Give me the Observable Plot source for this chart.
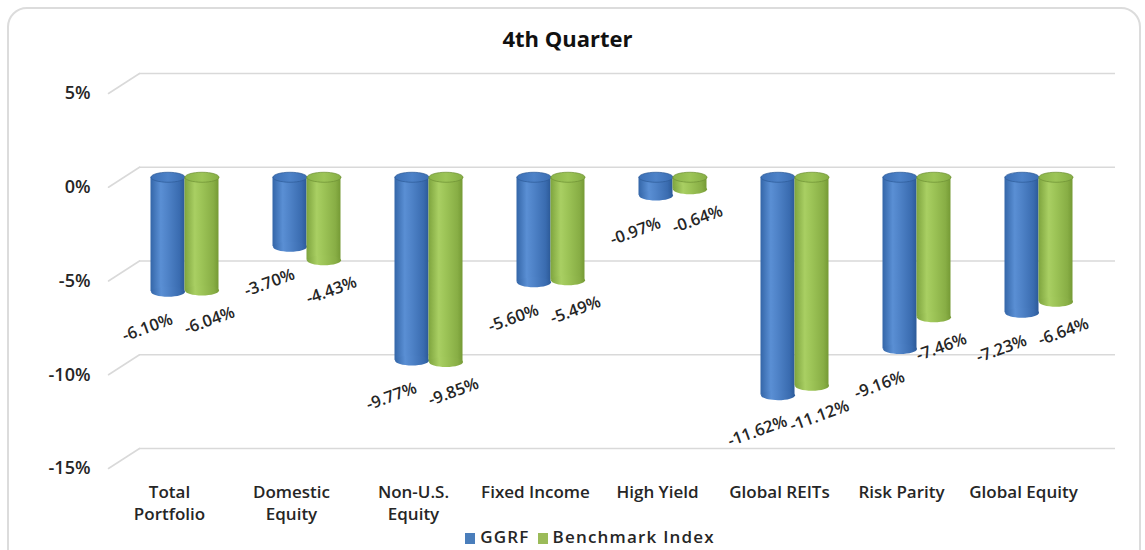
<!DOCTYPE html>
<html>
<head>
<meta charset="utf-8">
<script src="https://cdn.jsdelivr.net/npm/d3@7"></script>
<script src="https://cdn.jsdelivr.net/npm/@observablehq/plot@0.6"></script>
<style>
  body { margin: 0; background: #fff; font-family: "Open Sans", Lato, sans-serif; }
  #chart { position: relative; width: 1145px; height: 550px; overflow: hidden; }
  #frame { position: absolute; left: 7px; top: 7px; width: 1134px; height: 600px;
           border: 2px solid #dcdcdc; border-radius: 20px; box-sizing: border-box; }
  #title { position: absolute; left: 0; width: 1135px; top: 24px; text-align: center;
           font-weight: 700; font-size: 22px; line-height: 28px; color: #111; }
  #legend { position: absolute; left: 0; width: 1180px; top: 527px; text-align: center;
            font-size: 17px; font-weight: 600; letter-spacing: 1.2px; line-height: 20px;
            color: #262626; white-space: nowrap; }
  #legend span.sw { display: inline-block; width: 10px; height: 11px; margin: 0 5px 0 0; vertical-align: -1px; }
  #legend span.item { margin: 0 4px; }
  #plot { position: absolute; left: 0; top: 0; }
</style>
</head>
<body>
<div id="chart">
  <div id="frame"></div>
  <div id="plot"></div>
  <div id="title">4th Quarter</div>
  <div id="legend"></div>
</div>
<script>
// Asset classes and fourth-quarter returns (%)
const categories = ["Total Portfolio", "Domestic Equity", "Non-U.S. Equity", "Fixed Income",
                    "High Yield", "Global REITs", "Risk Parity", "Global Equity"];
const tickLabels = ["Total\nPortfolio", "Domestic\nEquity", "Non-U.S.\nEquity", "Fixed Income",
                    "High Yield", "Global REITs", "Risk Parity", "Global Equity"];
const seriesNames = ["GGRF", "Benchmark Index"];
const ggrf = [-6.10, -3.70, -9.77, -5.60, -0.97, -11.62, -9.16, -7.23];
const benchmark = [-6.04, -4.43, -9.85, -5.49, -0.64, -11.12, -7.46, -6.64];
const yTicks = [5, 0, -5, -10, -15];
const seriesColors = ["#4a7ebb", "#9bbb59"];

const rowsG = categories.map((c, i) => ({category: c, series: seriesNames[0], value: ggrf[i]}));
const rowsB = categories.map((c, i) => ({category: c, series: seriesNames[1], value: benchmark[i]}));

// Pseudo-3D geometry: back wall offset and the bars' depth plane halfway to it
const width = 1145, height = 550;
const marginLeft = 108, marginRight = 61, marginTop = 93, marginBottom = 82;
const band = (width - marginLeft - marginRight) / categories.length;
const depthX = 31, depthY = -20;
const midX = depthX / 2, midY = depthY / 2;
const barW = 34, rx = barW / 2, ry = 5;

// Ellipse symbol for cylinder caps
const ellipse = {
  draw(ctx) {
    const k = 0.5523;
    ctx.moveTo(-rx, 0);
    ctx.bezierCurveTo(-rx, -ry * k, -rx * k, -ry, 0, -ry);
    ctx.bezierCurveTo(rx * k, -ry, rx, -ry * k, rx, 0);
    ctx.bezierCurveTo(rx, ry * k, rx * k, ry, 0, ry);
    ctx.bezierCurveTo(-rx * k, ry, -rx, ry * k, -rx, 0);
    ctx.closePath();
  }
};
// Slanted gridline stub from the front axis to the back wall
const slant = {
  draw(ctx, length) { ctx.moveTo(0, 0); ctx.lineTo(0, -length); }
};

function cylinder(rows, side, body, top, rim) {
  const off = side < 0 ? -rx : rx;
  return [
    Plot.barY(rows, {
      x: "category", y1: () => 0, y2: "value",
      insetLeft: side < 0 ? band / 2 - barW : band / 2,
      insetRight: side < 0 ? band / 2 : band / 2 - barW,
      dx: midX, dy: midY, fill: body
    }),
    Plot.dot(rows, {x: "category", y: "value", symbol: ellipse, r: 1,
                    dx: midX + off, dy: midY, fill: body}),
    Plot.dot(rows, {x: "category", y: () => 0, symbol: ellipse, r: 1,
                    dx: midX + off, dy: midY, fill: top, stroke: rim, strokeWidth: 0.7})
  ];
}

const gridColor = "#d9d9d9";
const textColor = "#262626";

const chart = Plot.plot({
  width, height, marginLeft, marginRight, marginTop, marginBottom,
  x: {domain: categories, padding: 0, label: null},
  y: {domain: [-15, 5], label: null},
  style: {fontFamily: "'Open Sans', Lato, sans-serif", fontWeight: 600,
          background: "transparent", overflow: "visible"},
  marks: [
    Plot.ruleY(yTicks, {dx: depthX, dy: depthY, stroke: gridColor, strokeWidth: 1.5}),
    Plot.vector(yTicks, {y: d => d, frameAnchor: "left", anchor: "start",
                         length: Math.hypot(depthX, depthY),
                         rotate: Math.atan2(depthX, -depthY) * 180 / Math.PI,
                         shape: slant, stroke: gridColor, strokeWidth: 1.5}),
    ...cylinder(rowsG, -1, "url(#bodyBlue)", "url(#topBlue)", "#2d5a96"),
    ...cylinder(rowsB, 1, "url(#bodyGreen)", "url(#topGreen)", "#6d8f34"),
    Plot.text(rowsG, {x: "category", y: "value", text: d => d.value.toFixed(2) + "%",
                      rotate: -20, dx: -22, dy: 26, fontSize: 16.5, fill: textColor}),
    Plot.text(rowsB, {x: "category", y: "value", text: d => d.value.toFixed(2) + "%",
                      rotate: -20, dx: 40, dy: 20, fontSize: 16.5, fill: textColor}),
    Plot.axisY(yTicks, {tickSize: 0, tickPadding: 18, tickFormat: d => d + "%",
                        fontSize: 18, fill: textColor, label: null}),
    Plot.axisX({tickSize: 0, tickPadding: 14, fontSize: 17, lineHeight: 1.3,
                tickFormat: d => tickLabels[categories.indexOf(d)], fill: textColor, label: null})
  ]
});

// Cylinder shading gradients
const defs = d3.select(chart).insert("defs", ":first-child");
function hgrad(id, stops) {
  const g = defs.append("linearGradient").attr("id", id)
    .attr("x1", "0").attr("x2", "1").attr("y1", "0").attr("y2", "0");
  stops.forEach(([o, c]) => g.append("stop").attr("offset", o).attr("stop-color", c));
}
hgrad("bodyBlue", [[0, "#3466a8"], [0.3, "#5a8fd4"], [0.5, "#4f83c8"], [0.85, "#3a6cb0"], [1, "#2c5a98"]]);
hgrad("topBlue", [[0, "#3c70b6"], [0.5, "#4d82c8"], [1, "#3b6db2"]]);
hgrad("bodyGreen", [[0, "#7ea43e"], [0.3, "#a9cf63"], [0.5, "#9dc457"], [0.85, "#88ae45"], [1, "#759a35"]]);
hgrad("topGreen", [[0, "#8bb449"], [0.5, "#9dc557"], [1, "#86ae44"]]);

document.getElementById("plot").append(chart);

// Legend
const legend = document.getElementById("legend");
seriesNames.forEach((name, i) => {
  const item = document.createElement("span");
  item.className = "item";
  const sw = document.createElement("span");
  sw.className = "sw";
  sw.style.background = seriesColors[i];
  item.append(sw, document.createTextNode(name));
  legend.append(item);
});
</script>
</body>
</html>
